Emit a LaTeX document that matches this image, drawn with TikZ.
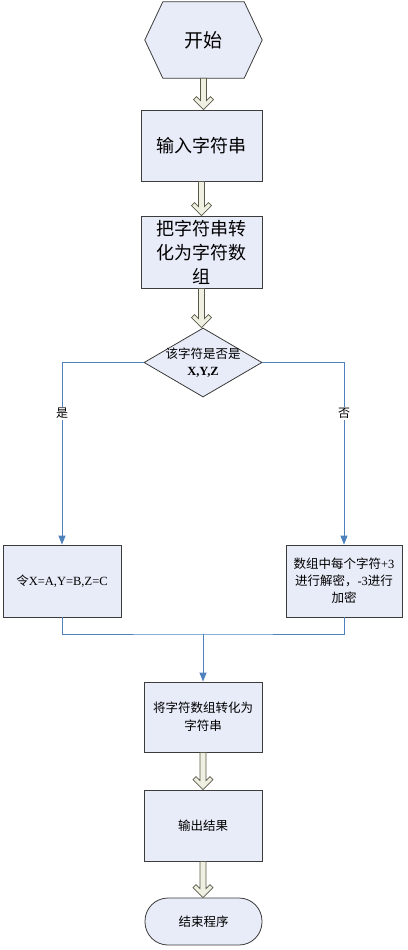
\documentclass[tikz,border=0pt]{standalone}
\usepackage{fontspec}
\setmainfont{Liberation Serif}
\newfontfamily\cjk{Noto Sans CJK SC}
\usetikzlibrary{shapes.geometric,arrows.meta,calc,backgrounds}
\definecolor{boxfill}{RGB}{232,236,248}
\definecolor{boxline}{RGB}{60,60,60}
\definecolor{flow}{RGB}{79,129,189}
\definecolor{fatfill}{RGB}{240,240,226}
\definecolor{fatline}{RGB}{90,90,74}
\begin{document}
\begin{tikzpicture}[x=1pt,y=-1pt,
  procbox/.style={draw=boxline, fill=boxfill, line width=0.8pt, inner sep=0pt, align=center},
  bigtext/.style={font=\fontsize{18}{24}\selectfont\cjk},
  smalltext/.style={font=\fontsize{12.5}{18}\selectfont},
  fat/.style={draw=fatline, fill=fatfill, line width=0.7pt, line join=miter,
    to path={let \p1=(\tikztostart), \p2=(\tikztotarget) in
      ({\x1-3pt},\y1) -- ({\x1-3pt},{\y2+9pt}) -- ({\x1-7pt},{\y2+13pt}) -- ({\x1-10pt},{\y2+10pt})
      -- (\x1,\y2) -- ({\x1+10pt},{\y2+10pt}) -- ({\x1+7pt},{\y2+13pt}) -- ({\x1+3pt},{\y2+9pt})
      -- ({\x1+3pt},\y1) -- cycle}},
  flowline/.style={draw=flow, line width=0.9pt},
  flowarrow/.style={flowline, -{Triangle[width=7pt,length=9pt]}},
  lbl/.style={fill=white, inner sep=1.5pt, font=\fontsize{12}{14}\selectfont\cjk}
]
\useasboundingbox (0,0) rectangle (407,950);
% start hexagon
\node[minimum width=117pt, minimum height=76pt, inner sep=0pt, font=\fontsize{19}{24}\selectfont\cjk] (start) at (203.5,40) {开始};
\begin{scope}[on background layer]
\draw[draw=boxline, fill=boxfill, line width=0.8pt]
  (start.west) -- ([xshift=18pt]start.north west) -- ([xshift=-18pt]start.north east)
  -- (start.east) -- ([xshift=-18pt]start.south east) -- ([xshift=18pt]start.south west) -- cycle;
\end{scope}
% boxes
\node[procbox, bigtext, minimum width=121pt, minimum height=71pt] (input) at (201.5,145.5) {输入字符串};
\node[procbox, bigtext, minimum width=121pt, minimum height=72pt] (conv) at (201.5,252) {把字符串转\\化为字符数\\组};
\node[diamond, draw=boxline, fill=boxfill, line width=0.8pt, inner sep=0pt,
  minimum width=118pt, minimum height=69pt,
  label={[align=center, smalltext]center:{\cjk 该字符是否是}\\[-1pt]\textbf{X,Y,Z}}] (dec) at (203,362.5) {};
\node[procbox, smalltext, minimum width=118pt, minimum height=72pt] (left) at (62,581) {{\cjk 令}X=A,Y=B,Z=C};
\node[procbox, font=\fontsize{12.5}{17}\selectfont, minimum width=116pt, minimum height=72pt] (right) at (344,581)
  {{\cjk 数组中每个字符}+3\\{\cjk 进行解密，}-3{\cjk 进行}\\{\cjk 加密}};
\node[procbox, font=\fontsize{12.5}{18}\selectfont\cjk, minimum width=118pt, minimum height=70pt] (tostr) at (203,717) {将字符数组转化为\\字符串};
\node[procbox, font=\fontsize{12.5}{18}\selectfont\cjk, minimum width=118pt, minimum height=71pt] (out) at (203,825.5) {输出结果};
\node[procbox, rounded corners=23pt, font=\fontsize{12.5}{18}\selectfont\cjk, minimum width=117pt, minimum height=47pt] (end) at (203.5,921.5) {结束程序};
% fat arrows
\path[fat] (start.south) to (input.north);
\path[fat] (input.south) to (conv.north);
\path[fat] (conv.south) to (dec.north);
\path[fat] (tostr.south) to (out.north);
\path[fat] (out.south) to (end.north);
% blue connectors
\draw[flowarrow] (dec.west) -| (left.north) node[lbl, pos=0.64] {是};
\draw[flowarrow] (dec.east) -| (right.north) node[lbl, pos=0.64] {否};
\coordinate (merge) at (203,634);
\draw[flowline] (left.south) |- (merge) -| (right.south);
\draw[flowarrow] (merge) -- (tostr.north);
\end{tikzpicture}
\end{document}
